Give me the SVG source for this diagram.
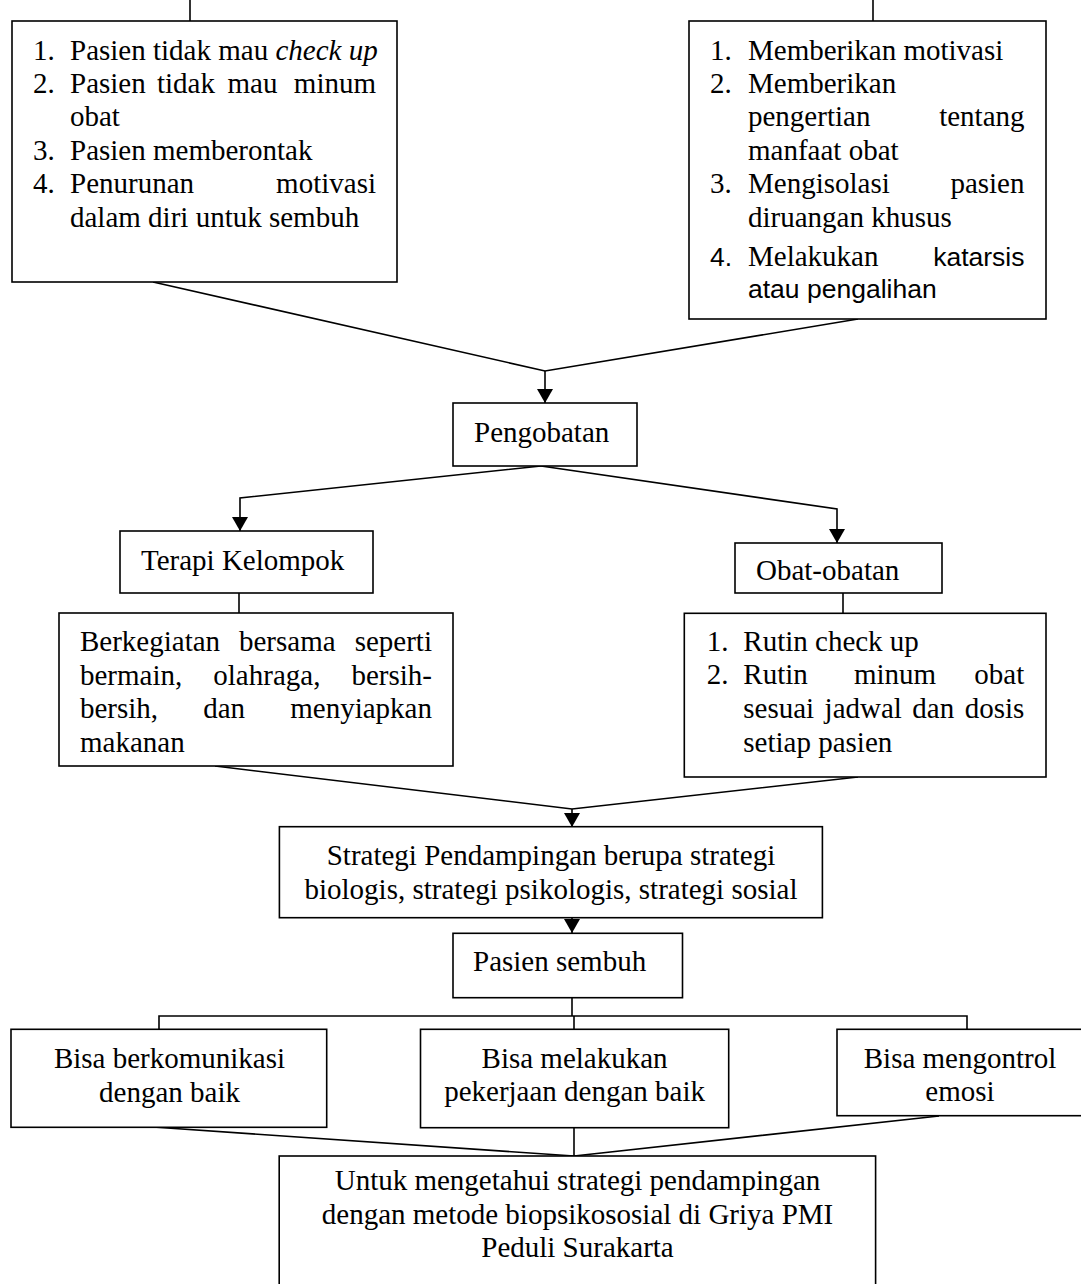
<svg xmlns="http://www.w3.org/2000/svg" width="1081" height="1284" viewBox="0 0 1081 1284">
<style>
.box{fill:#fff;stroke:#000;stroke-width:1.6}
.ln{fill:none;stroke:#000;stroke-width:1.6}
text{font-family:"Liberation Serif","Times New Roman",serif;font-size:29px;fill:#000}
.s{font-family:"Liberation Sans",Arial,sans-serif;font-size:26.5px}
.c{text-anchor:middle}
.e{text-anchor:end}
</style>
<defs>
<marker id="ah" markerUnits="userSpaceOnUse" markerWidth="14" markerHeight="16" refX="14" refY="8" orient="auto">
<path d="M0,0 L14,8 L0,16 z" fill="#000"/>
</marker>
</defs>
<rect width="1081" height="1284" fill="#fff"/>
<g id="connectors">
<line class="ln" x1="190" y1="0" x2="190" y2="21"/>
<line class="ln" x1="873" y1="0" x2="873" y2="21"/>
<polyline class="ln" points="153,282 545,371 858,319"/>
<line class="ln" x1="545" y1="371" x2="545" y2="403" marker-end="url(#ah)"/>
<polyline class="ln" points="541,466 240,498 240,531" marker-end="url(#ah)"/>
<polyline class="ln" points="541,466 837,509 837,543" marker-end="url(#ah)"/>
<line class="ln" x1="239" y1="593" x2="239" y2="613"/>
<line class="ln" x1="843" y1="593" x2="843" y2="613"/>
<polyline class="ln" points="215,766 572,809 858,777"/>
<line class="ln" x1="572" y1="809" x2="572" y2="827" marker-end="url(#ah)"/>
<line class="ln" x1="572" y1="918" x2="572" y2="933" marker-end="url(#ah)"/>
<line class="ln" x1="572" y1="998" x2="572" y2="1016"/>
<polyline class="ln" points="159,1029 159,1016 967,1016 967,1029"/>
<line class="ln" x1="574" y1="1016" x2="574" y2="1029"/>
<polyline class="ln" points="153,1127 574,1156 939,1116"/>
<line class="ln" x1="574" y1="1128" x2="574" y2="1156"/>
</g>
<g id="node-masalah">
<rect class="box" x="12" y="21" width="385" height="261"/>
<text x="33" y="59.5">1.</text>
<text x="70" y="59.5">Pasien tidak mau <tspan font-style="italic">check up</tspan></text>
<text x="33" y="93">2.</text>
<text x="70" y="93">Pasien</text><text x="157" y="93">tidak</text><text x="227.5" y="93">mau</text><text class="e" x="376" y="93">minum</text>
<text x="70" y="126.4">obat</text>
<text x="33" y="159.8">3.</text>
<text x="70" y="159.8">Pasien memberontak</text>
<text x="33" y="193.2">4.</text>
<text x="70" y="193.2">Penurunan</text><text class="e" x="376" y="193.2">motivasi</text>
<text x="70" y="226.6">dalam diri untuk sembuh</text>
</g>
<g id="node-solusi">
<rect class="box" x="689" y="21" width="357" height="298"/>
<text x="710" y="59.5">1.</text>
<text x="748" y="59.5">Memberikan motivasi</text>
<text x="710" y="93">2.</text>
<text x="748" y="93">Memberikan</text>
<text x="748" y="126.4">pengertian</text><text class="e" x="1024.5" y="126.4">tentang</text>
<text x="748" y="159.8">manfaat obat</text>
<text x="710" y="193.2">3.</text>
<text x="748" y="193.2">Mengisolasi</text><text class="e" x="1024.5" y="193.2">pasien</text>
<text x="748" y="226.6">diruangan khusus</text>
<text class="s" x="710" y="265.5">4.</text>
<text x="748" y="265.5">Melakukan</text><text class="s e" x="1024.5" y="265.5">katarsis</text>
<text class="s" x="748" y="297.5">atau pengalihan</text>
</g>
<g id="node-pengobatan">
<rect class="box" x="453" y="403" width="184" height="63"/>
<text x="474" y="442">Pengobatan</text>
</g>
<g id="node-terapi">
<rect class="box" x="120" y="531" width="253" height="62"/>
<text x="141" y="570">Terapi Kelompok</text>
</g>
<g id="node-obat">
<rect class="box" x="735" y="543" width="207" height="50"/>
<text x="756" y="580">Obat-obatan</text>
</g>
<g id="node-berkegiatan">
<rect class="box" x="59" y="613" width="394" height="153"/>
<text x="80" y="651">Berkegiatan</text><text x="239" y="651">bersama</text><text class="e" x="432" y="651">seperti</text>
<text x="80" y="684.5">bermain,</text><text x="213.3" y="684.5">olahraga,</text><text class="e" x="432" y="684.5">bersih-</text>
<text x="80" y="718">bersih,</text><text x="203.2" y="718">dan</text><text class="e" x="432" y="718">menyiapkan</text>
<text x="80" y="751.5">makanan</text>
</g>
<g id="node-rutin">
<rect class="box" x="684.3" y="613.3" width="361.7" height="163.7"/>
<text x="706.7" y="650.7">1.</text>
<text x="743.3" y="650.7">Rutin check up</text>
<text x="706.7" y="684.4">2.</text>
<text x="743.3" y="684.4">Rutin</text><text x="854" y="684.4">minum</text><text class="e" x="1024.3" y="684.4">obat</text>
<text x="743.3" y="718.3">sesuai</text><text x="824.6" y="718.3">jadwal</text><text x="912.3" y="718.3">dan</text><text class="e" x="1024.3" y="718.3">dosis</text>
<text x="743.3" y="752.2">setiap pasien</text>
</g>
<g id="node-strategi">
<rect class="box" x="279.4" y="826.7" width="543" height="91"/>
<text class="c" x="551" y="865">Strategi Pendampingan berupa strategi</text>
<text class="c" x="551" y="899">biologis, strategi psikologis, strategi sosial</text>
</g>
<g id="node-sembuh">
<rect class="box" x="453" y="933.3" width="229.5" height="64.4"/>
<text x="473" y="971">Pasien sembuh</text>
</g>
<g id="node-komunikasi">
<rect class="box" x="11" y="1029.3" width="315.7" height="98"/>
<text class="c" x="169.5" y="1068">Bisa berkomunikasi</text>
<text class="c" x="169.5" y="1101.5">dengan baik</text>
</g>
<g id="node-pekerjaan">
<rect class="box" x="420.5" y="1029.3" width="308.2" height="98.4"/>
<text class="c" x="574.6" y="1067.5">Bisa melakukan</text>
<text class="c" x="574.6" y="1101">pekerjaan dengan baik</text>
</g>
<g id="node-emosi">
<rect class="box" x="837" y="1029.3" width="246" height="86.4"/>
<text class="c" x="960" y="1067.5">Bisa mengontrol</text>
<text class="c" x="960" y="1101">emosi</text>
</g>
<g id="node-tujuan">
<rect class="box" x="279.2" y="1156" width="596.4" height="140"/>
<text class="c" x="577.5" y="1190">Untuk mengetahui strategi pendampingan</text>
<text class="c" x="577.5" y="1223.5">dengan metode biopsikososial di Griya PMI</text>
<text class="c" x="577.5" y="1257">Peduli Surakarta</text>
</g>
</svg>
